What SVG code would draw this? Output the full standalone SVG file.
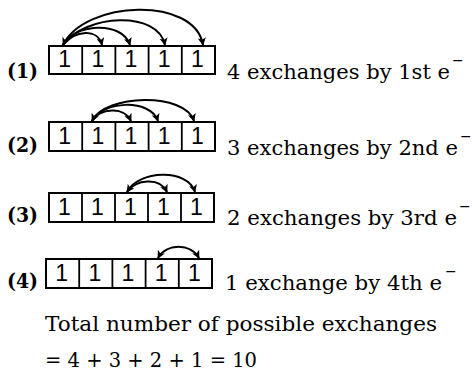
<svg xmlns="http://www.w3.org/2000/svg" width="472" height="372" viewBox="0 0 472 372">
<style>
.box{fill:#fff;stroke:#000;stroke-width:2}
.div{stroke:#000;stroke-width:1.8}
.one{font-family:"Liberation Sans",Arial,sans-serif;font-size:23px;fill:#000;text-anchor:middle}
.lab{font-family:"DejaVu Serif",serif;font-weight:bold;font-size:21px;fill:#000}
.t{font-family:"DejaVu Serif",serif;font-size:20px;fill:#000}
.sup{font-family:"DejaVu Serif",serif;font-size:14px}
.arc{fill:none;stroke:#000;stroke-width:2;marker-end:url(#ah)}
.both{marker-start:url(#ah)}
</style>
<defs>
<marker id="ah" viewBox="0 0 10 10" refX="9" refY="5" markerWidth="8" markerHeight="8" markerUnits="userSpaceOnUse" orient="auto-start-reverse">
<path d="M0,0 L10,5 L0,10 L2.5,5 Z" fill="#000"/>
</marker>
</defs>
<g id="row1">
<text class="lab" x="7" y="78" textLength="31" lengthAdjust="spacingAndGlyphs">(1)</text>
<rect class="box" x="49" y="46" width="166" height="28"/>
<path class="div" d="M82.2,46V74M115.4,46V74M148.6,46V74M181.8,46V74"/>
<text class="one" y="67"><tspan x="64.6">1</tspan><tspan x="97.8">1</tspan><tspan x="131">1</tspan><tspan x="164.2">1</tspan><tspan x="197.4">1</tspan></text>
<text class="t" y="79"><tspan x="227" textLength="223" lengthAdjust="spacingAndGlyphs">4 exchanges by 1st e</tspan><tspan class="sup" x="452" dy="-14.5">−</tspan></text>
</g>
<g id="row2">
<text class="lab" x="7" y="152" textLength="31" lengthAdjust="spacingAndGlyphs">(2)</text>
<rect class="box" x="49" y="122" width="166" height="29"/>
<path class="div" d="M82.2,122V151M115.4,122V151M148.6,122V151M181.8,122V151"/>
<text class="one" y="144"><tspan x="64.6">1</tspan><tspan x="97.8">1</tspan><tspan x="131">1</tspan><tspan x="164.2">1</tspan><tspan x="197.4">1</tspan></text>
<text class="t" y="155"><tspan x="227" textLength="231" lengthAdjust="spacingAndGlyphs">3 exchanges by 2nd e</tspan><tspan class="sup" x="460" dy="-14.5">−</tspan></text>
</g>
<g id="row3">
<text class="lab" x="7" y="222" textLength="31" lengthAdjust="spacingAndGlyphs">(3)</text>
<rect class="box" x="49" y="193" width="165" height="29"/>
<path class="div" d="M82,193V222M115,193V222M148,193V222M181,193V222"/>
<text class="one" y="215"><tspan x="64.5">1</tspan><tspan x="97.5">1</tspan><tspan x="130.5">1</tspan><tspan x="163.5">1</tspan><tspan x="196.5">1</tspan></text>
<text class="t" y="225"><tspan x="227" textLength="230" lengthAdjust="spacingAndGlyphs">2 exchanges by 3rd e</tspan><tspan class="sup" x="459" dy="-14.5">−</tspan></text>
</g>
<g id="row4">
<text class="lab" x="7" y="288" textLength="31" lengthAdjust="spacingAndGlyphs">(4)</text>
<rect class="box" x="46" y="259" width="166" height="29"/>
<path class="div" d="M79.2,259V288M112.4,259V288M145.6,259V288M178.8,259V288"/>
<text class="one" y="281"><tspan x="61.6">1</tspan><tspan x="94.8">1</tspan><tspan x="128">1</tspan><tspan x="161.2">1</tspan><tspan x="194.4">1</tspan></text>
<text class="t" y="290"><tspan x="225" textLength="217" lengthAdjust="spacingAndGlyphs">1 exchange by 4th e</tspan><tspan class="sup" x="445" dy="-14.5">−</tspan></text>
</g>
<g id="connectors">
<path class="arc" d="M63,45 C75,30 98,28 102,45"/>
<path class="arc both" d="M63,45 C73,24 122,20 130,45"/>
<path class="arc" d="M63,45 C85,14 158,10 165,45"/>
<path class="arc" d="M63,45 C85,0 195,-4 203,45"/>
<path class="arc" d="M92,121 C100,108 124,106 131,121"/>
<path class="arc both" d="M92,121 C102,101 150,98 158,121"/>
<path class="arc" d="M92,121 C105,94 185,92 194,121"/>
<path class="arc both" d="M127,192 C136,179 160,177 167,192"/>
<path class="arc" d="M127,192 C138,170 188,168 195,192"/>
<path class="arc both" d="M158,258 C166,243 191,243 199,258"/>
</g>
<g id="total">
<text class="t" x="45" y="331" font-size="21" textLength="392" lengthAdjust="spacingAndGlyphs">Total number of possible exchanges</text>
<text class="t" x="45" y="367" font-size="21" textLength="212" lengthAdjust="spacingAndGlyphs">= 4 + 3 + 2 + 1 = 10</text>
</g>
</svg>
